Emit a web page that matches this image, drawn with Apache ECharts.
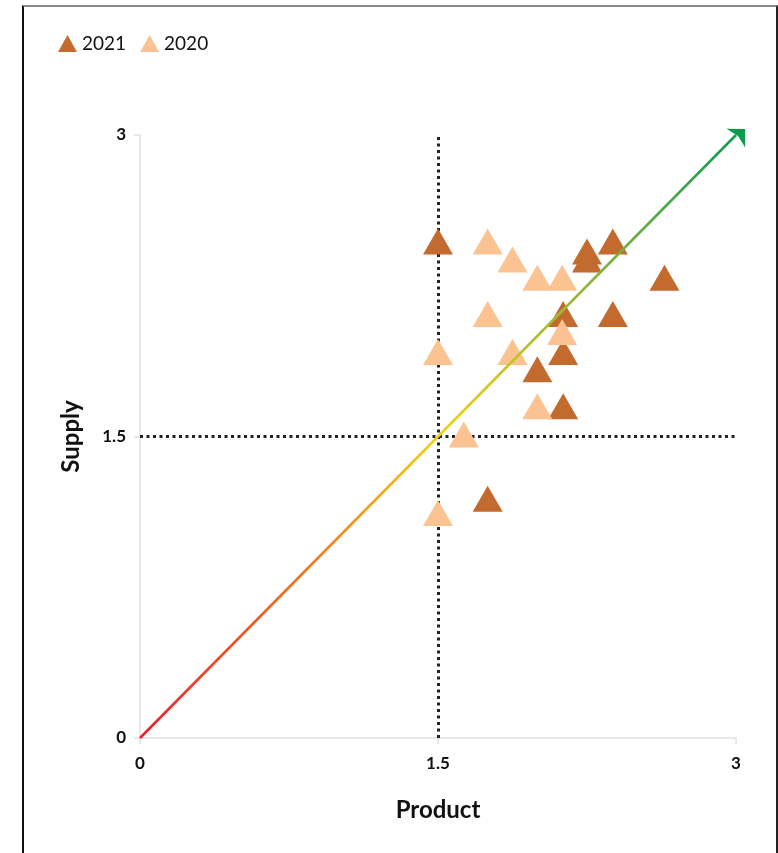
<!DOCTYPE html>
<html>
<head>
<meta charset="utf-8">
<script src="https://cdn.jsdelivr.net/npm/echarts@6/dist/echarts.min.js"></script>
<style>
html,body{margin:0;padding:0;background:#fff;}
#c{width:778px;height:853px;}
#frame{position:absolute;left:22px;top:5px;width:752px;height:860px;border-left:2px solid #111;border-top:2px solid #888;border-right:2px solid #222;pointer-events:none;}
</style>
</head>
<body>
<div id="c"></div>
<div id="frame"></div>
<script>
const seriesNames = ['2021', '2020'];
const data2021 = [
  [1.5, 2.47], [2.25, 2.42], [2.25, 2.38], [2.38, 2.47], [2.64, 2.29],
  [2.13, 2.11], [2.38, 2.11], [2.13, 1.92], [2.0, 1.835], [2.13, 1.65], [1.75, 1.19]
];
const data2020 = [
  [1.75, 2.47], [1.875, 2.38], [2.0, 2.29], [2.125, 2.29], [1.75, 2.11],
  [2.125, 2.02], [1.5, 1.92], [1.875, 1.92], [2.0, 1.65], [1.63, 1.51], [1.5, 1.12]
];
const diagonal = [[0, 0], [3, 3]];
const refX = 1.5;
const refY = 1.5;
const axisMin = 0, axisMax = 3, axisStep = 1.5;
const xName = 'Product';
const yName = 'Supply';

const font = 'Lato, "Open Sans", sans-serif';
const chart = echarts.init(document.getElementById('c'));
chart.setOption({
  animation: false,
  backgroundColor: '#fff',
  legend: {
    left: 53, top: 29,
    itemWidth: 19, itemHeight: 17, itemGap: 14,
    textStyle: { fontFamily: font, fontSize: 19, color: '#111' },
    data: seriesNames.map(n => ({ name: n, icon: 'triangle' }))
  },
  grid: { left: 140, right: 42, top: 135, bottom: 115 },
  xAxis: {
    type: 'value', min: axisMin, max: axisMax, interval: axisStep,
    name: xName, nameLocation: 'middle', nameGap: 60,
    nameTextStyle: { fontFamily: font, fontSize: 24, fontWeight: 'bold', color: '#111' },
    axisLine: { show: true, lineStyle: { color: '#e8e8e8', width: 2 } },
    axisTick: { show: true, length: 6, lineStyle: { color: '#e8e8e8', width: 2 } },
    axisLabel: { fontFamily: font, fontSize: 17, fontWeight: 'bold', color: '#111', margin: 17 },
    splitLine: { show: false }
  },
  yAxis: {
    type: 'value', min: axisMin, max: axisMax, interval: axisStep,
    name: yName, nameLocation: 'middle', nameGap: 57,
    nameTextStyle: { fontFamily: font, fontSize: 24, fontWeight: 'bold', color: '#111' },
    axisLine: { show: true, lineStyle: { color: '#e8e8e8', width: 2 } },
    axisTick: { show: true, length: 6, lineStyle: { color: '#e8e8e8', width: 2 } },
    axisLabel: { fontFamily: font, fontSize: 17, fontWeight: 'bold', color: '#111', margin: 14 },
    splitLine: { show: false }
  },
  series: [
    {
      name: '2021', type: 'scatter', symbol: 'triangle', symbolSize: [30, 26], z: 3,
      itemStyle: { color: '#c36a2f', opacity: 1 },
      data: data2021,
      markLine: {
        silent: true, symbol: 'none', z: 1,
        label: { show: false },
        lineStyle: { color: '#222', type: [3, 3.5], width: 3 },
        data: [{ xAxis: refX }, { yAxis: refY }]
      }
    },
    {
      name: '2020', type: 'scatter', symbol: 'triangle', symbolSize: [30, 26], z: 3,
      itemStyle: { color: '#fbc392', opacity: 1 },
      data: data2020
    },
    {
      name: 'diag', type: 'line', z: 5, showSymbol: false, silent: true,
      data: diagonal,
      lineStyle: {
        width: 2.5,
        color: new echarts.graphic.LinearGradient(0, 1, 1, 0, [
          { offset: 0, color: '#ea1c2d' },
          { offset: 0.3, color: '#f47b20' },
          { offset: 0.5, color: '#f6d10b' },
          { offset: 0.75, color: '#8db53c' },
          { offset: 1, color: '#0c9a4e' }
        ])
      }
    },
    {
      name: 'arrow', type: 'scatter', z: 6, silent: true,
      symbol: 'arrow', symbolSize: [20, 13], symbolRotate: -45, symbolOffset: [9, -6],
      itemStyle: { color: '#0c9a4e', opacity: 1 },
      data: [diagonal[1]]
    }
  ]
});
</script>
</body>
</html>
